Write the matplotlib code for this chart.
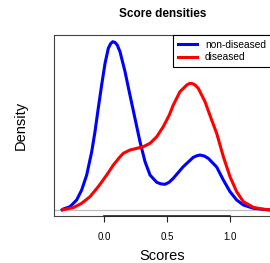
import matplotlib
matplotlib.use("Agg")
import matplotlib.pyplot as plt

plt.rcParams['font.family'] = ['Liberation Sans', 'DejaVu Sans']

# density curves (x = score, y = density)
nondis_x = [-0.335, -0.326, -0.273, -0.220, -0.180, -0.140, -0.100, -0.074, -0.048, -0.021,
            0.006, 0.032, 0.050, 0.067, 0.085, 0.103, 0.125, 0.165, 0.204, 0.244,
            0.284, 0.324, 0.364, 0.417, 0.450, 0.483, 0.515, 0.549, 0.628, 0.708,
            0.735, 0.761, 0.795, 0.827, 0.894, 0.947, 1.0, 1.053, 1.106, 1.186,
            1.265, 1.318]
nondis_y = [0.008, 0.019, 0.053, 0.153, 0.301, 0.523, 0.869, 1.166, 1.513, 1.858,
            2.180, 2.402, 2.470, 2.500, 2.490, 2.451, 2.352, 2.055, 1.710, 1.364,
            1.017, 0.721, 0.523, 0.415, 0.392, 0.386, 0.415, 0.475, 0.647, 0.786,
            0.808, 0.820, 0.805, 0.771, 0.642, 0.449, 0.276, 0.153, 0.079, 0.030,
            0.015, 0.004]

dis_x = [-0.330, -0.313, -0.247, -0.180, -0.114, -0.048, 0.019, 0.072, 0.119, 0.151,
         0.204, 0.258, 0.310, 0.364, 0.417, 0.469, 0.517, 0.549, 0.602, 0.656,
         0.675, 0.695, 0.720, 0.748, 0.801, 0.854, 0.894, 0.947, 1.0, 1.053,
         1.106, 1.186, 1.265, 1.318]
dis_y = [0.008, 0.015, 0.039, 0.104, 0.202, 0.350, 0.523, 0.672, 0.780, 0.845,
         0.894, 0.919, 0.943, 0.994, 1.091, 1.240, 1.413, 1.562, 1.759, 1.858,
         1.878, 1.883, 1.862, 1.809, 1.611, 1.339, 1.142, 0.795, 0.498, 0.276,
         0.128, 0.044, 0.015, 0.009]

labels = ['non-diseased', 'diseased']
colours = ['#0000FF', '#FF0000']
xticks = [0.0, 0.5, 1.0]

fig = plt.figure(figsize=(2.7, 2.63), dpi=100)
ax = fig.add_axes([54 / 270, 1 - 215.7 / 263, 217 / 270, (215.7 - 34.7) / 263])

ax.axhline(0, color='#BEBEBE', lw=0.9, zorder=1)
ax.plot(nondis_x, nondis_y, color=colours[0], lw=2.2, label=labels[0],
        solid_joinstyle='round', zorder=3)
ax.plot(dis_x, dis_y, color=colours[1], lw=2.2, label=labels[1],
        solid_joinstyle='round', zorder=3)

ax.set_xlim(-0.40, 1.326)
ax.set_ylim(-0.080, 2.604)

for s in ax.spines.values():
    s.set_color('#444444')
    s.set_linewidth(0.8)

# R style axis: line only between first and last tick
ax.plot([xticks[0], xticks[-1]], [-0.080, -0.080], color='#222222', lw=1.2,
        clip_on=False, zorder=4)
ax.set_xticks(xticks)
ax.set_xticklabels(['%.1f' % t for t in xticks], fontsize=7)
ax.tick_params(axis='x', direction='out', length=4, width=0.8, color='#222222', pad=8)
ax.set_yticks([])

ax.set_xlabel('Scores', fontsize=10.5, labelpad=4.5)
ax.set_ylabel('Density', fontsize=10.5, labelpad=19)
ax.set_title('Score densities', fontsize=8.5, fontweight='bold', pad=13)

leg = ax.legend(loc='upper right', bbox_to_anchor=(1.0, 1.0), borderaxespad=0,
                fontsize=7.3, fancybox=False, framealpha=1, edgecolor='black',
                handlelength=1.9, handletextpad=0.75, labelspacing=0.25,
                borderpad=0.5)
leg.get_frame().set_linewidth(0.8)

fig.savefig('out.png', dpi=100)
